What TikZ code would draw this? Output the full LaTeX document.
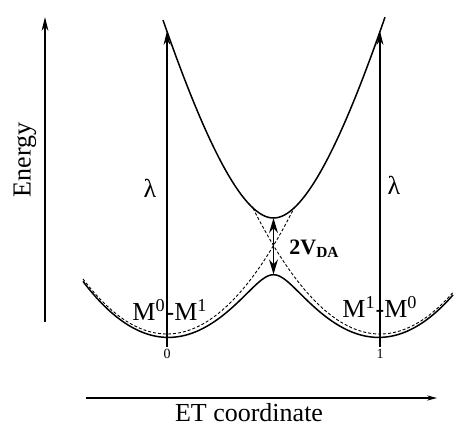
\documentclass[tikz,border=0pt]{standalone}
\usepackage{fontspec}
\setmainfont{Liberation Serif}
\usetikzlibrary{arrows.meta}

\tikzset{
  >={Stealth[length=7pt,width=3.4pt]},   % default arrow tip
  curve/.style={line width=0.75pt},
  diabat/.style={line width=0.45pt, dash pattern=on 1.5pt off 1pt},
  lbl/.style={font=\fontsize{13}{15}\selectfont, inner sep=1pt},
  small/.style={font=\fontsize{7}{8}\selectfont, inner sep=1pt},
}

\begin{document}
\begin{tikzpicture}[x=0.5pt,y=0.5pt,
  declare function={ea(\t)=0.078*((\t-167)/10)^2; eb(\t)=0.078*((\t-380)/10)^2;}]
	\useasboundingbox (0,0) rectangle (455,427);

	% axis
	\coordinate (ebot) at (45,105);
	\coordinate (etop) at (45,410);
	\draw[->, line width=0.6pt] (ebot) -- (etop);
	\node[lbl, rotate=90] (energy) at (25,267) {Energy};
	\coordinate (xleft) at (86,29);
	\coordinate (xright) at (437,29);
	\draw[->, line width=0.6pt, >={Stealth[length=5pt,width=2.6pt]}] (xleft) -- (xright);
	\node[lbl, anchor=base] (etc) at (249,5) {ET coordinate};

	% diabatic states
	\draw[diabat] plot[domain=83:294, samples=120] (\x, {93+10*ea(\x)});
	\draw[diabat] plot[domain=253:453, samples=120] (\x, {93+10*eb(\x)});
	% lower adiabatic state
	\draw[curve] plot[domain=83:453, samples=220]
		(\x, {91.8+10*((ea(\x)+eb(\x))/2-sqrt(((ea(\x)-eb(\x))/2)^2+7.84))});
	% upper adiabatic state
	\draw[curve] plot[domain=163:385, samples=150]
		(\x, {209+2.66*((\x-273.5)/10)^2/(1+0.0058*abs(\x-273.5))});

	% vertical excitation
	\coordinate (tickL) at (167,80);
	\coordinate (topL) at (167,396);
	\draw[->, line width=0.8pt] (tickL) -- (topL);
	\node[lbl] (lamL) at (150,239) {λ};
	\node[small, anchor=north] (zero) at (tickL) {0};
	\coordinate (tickR) at (380,80);
	\coordinate (topR) at (380,396);
	\draw[->, line width=0.8pt] (tickR) -- (topR);
	\node[lbl] (lamR) at (394,242) {λ};
	\node[small, anchor=north] (one) at (tickR) {1};

	% minima
	\node[lbl] (mleft) at (170,117) {M\textsuperscript{0}-M\textsuperscript{1}};
	\node[lbl] (mright) at (380,120) {M\textsuperscript{1}-M\textsuperscript{0}};

	% splitting
	\coordinate (upmin) at (273.5,209);
	\coordinate (lowtop) at (273.5,152.5);
	\draw[<->, line width=0.9pt, >={Stealth[length=7.5pt,width=4.4pt]}] (upmin) -- (lowtop);
	\node[anchor=west, font=\fontsize{11}{13}\selectfont\bfseries, inner sep=1pt] (gap) at (287,178) {2V\textsubscript{DA}};

\end{tikzpicture}
\end{document}
